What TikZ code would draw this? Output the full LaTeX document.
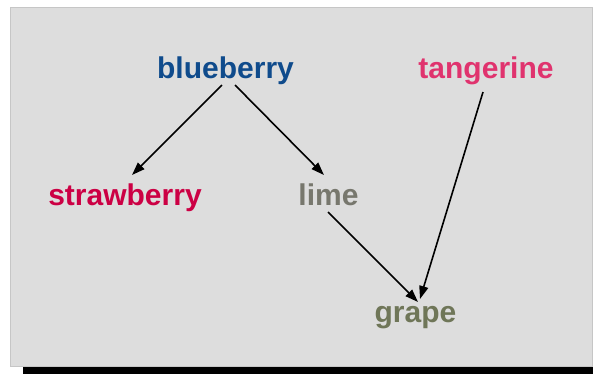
\documentclass[tikz,border=0pt]{standalone}
\usepackage{fontspec}
\setmainfont{Liberation Sans}
\usetikzlibrary{arrows.meta,calc}
\definecolor{bgfill}{HTML}{DDDDDD}
\definecolor{bgedge}{HTML}{C6C6C6}
\definecolor{cblue}{HTML}{0F4B8C}
\definecolor{ctang}{HTML}{E0336E}
\definecolor{cstraw}{HTML}{CC0044}
\definecolor{clime}{HTML}{77776D}
\definecolor{cgrape}{HTML}{6F7658}
\tikzset{
  fruit/.style={anchor=base, inner sep=0pt, font=\fontsize{30}{32}\selectfont\bfseries},
  edge/.style={line width=1.6pt, -{Triangle[length=13pt,width=9pt]}}
}
\begin{document}
\begin{tikzpicture}[x=1pt,y=-1pt]
\useasboundingbox (0,0) rectangle (593,373);
\fill[black] (23,20) rectangle (606,380);
\filldraw[fill=bgfill, draw=bgedge, line width=0.6pt] (10,7) rectangle (592.5,366.5);
\node[fruit, text=cblue]  (bb) at (225.5,78) {blueberry};
\node[fruit, text=ctang]  (tg) at (486,78) {tangerine};
\node[fruit, text=cstraw] (sb) at (125,205) {strawberry};
\node[fruit, text=clime]  (lm) at (328.5,205.5) {lime};
\node[fruit, text=cgrape] (gr) at (415.5,322) {grape};
\draw[edge] ([shift={(-3.5,7)}]bb.base) -- ([shift={(7,-30)}]sb.base);
\draw[edge] ([shift={(9.5,7)}]bb.base) -- ([shift={(-4.5,-30.5)}]lm.base);
\draw[edge] ([shift={(-0.5,6.5)}]lm.base) -- ([shift={(2.5,-20)}]gr.base);
\draw[edge] ([shift={(-3,14)}]tg.base) -- ([shift={(4.5,-23)}]gr.base);
\end{tikzpicture}
\end{document}
